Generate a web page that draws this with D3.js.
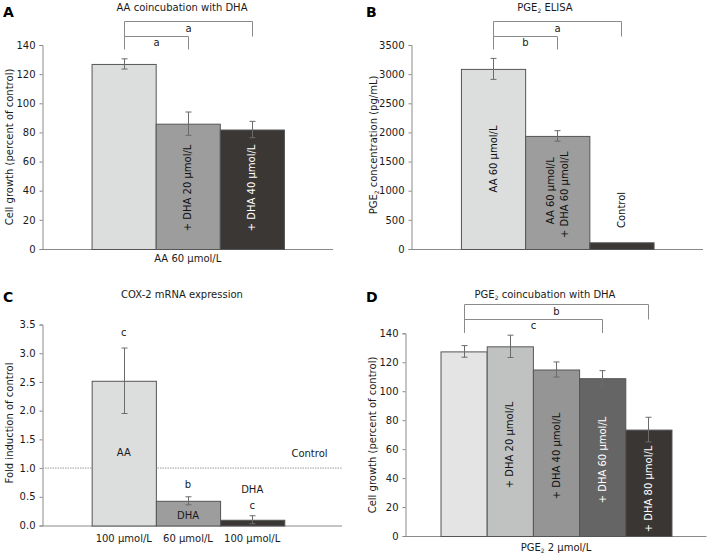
<!DOCTYPE html>
<html>
<head>
<meta charset="utf-8">
<script src="https://cdn.jsdelivr.net/npm/d3@7"></script>
<style>
  html, body { margin: 0; padding: 0; background: #fff; }
  svg { display: block; }
</style>
</head>
<body>
<svg id="chart" width="709" height="557"></svg>
<script>
// ---------------- DATA ----------------
// Panel A
const catsA = ["AA 60", "+ DHA 20", "+ DHA 40"];
const valuesA = [127, 86, 82];
const errorsA = [3.5, 8, 5.6];
const barLabelsA = ["", "+ DHA 20 μmol/L", "+ DHA 40 μmol/L"];
const xLabelA = "AA 60 μmol/L";
const ticksA = [0, 20, 40, 60, 80, 100, 120, 140];
const bracketsA = [ {from: 0, to: 2, level: 0, text: "a"}, {from: 0, to: 1, level: 1, text: "a"} ];

// Panel B
const catsB = ["AA", "AA+DHA", "Control"];
const valuesB = [3090, 1940, 115];
const errorsB = [180, 90, 0];
const barLabelsB = [["AA 60 μmol/L"], ["AA 60 μmol/L", "+ DHA 60 μmol/L"], ["Control"]];
const ticksB = [0, 500, 1000, 1500, 2000, 2500, 3000, 3500];
const bracketsB = [ {from: 0, to: 2, level: 0, text: "a"}, {from: 0, to: 1, level: 1, text: "b"} ];

// Panel C
const catsC = ["AA 100", "DHA 60", "DHA 100"];
const valuesC = [2.52, 0.43, 0.10];
const errorsC = [0.57, 0.07, 0.07];
const xTickLabelsC = ["100 μmol/L", "60 μmol/L", "100 μmol/L"];
const ticksC = [0, 0.5, 1.0, 1.5, 2.0, 2.5, 3.0, 3.5];
const controlLevelC = 1.0;
const annotationsC = [
  {cat: 0, value: 3.36, text: "c"},
  {cat: 0, value: 1.27, text: "AA"},
  {cat: 1, value: 0.71, text: "b"},
  {cat: 1, value: 0.17, text: "DHA"},
  {cat: 2, value: 0.63, text: "DHA"},
  {cat: 2, value: 0.34, text: "c"}
];

// Panel D
const catsD = ["PGE2", "+ DHA 20", "+ DHA 40", "+ DHA 60", "+ DHA 80"];
const valuesD = [127.5, 131, 115, 109, 73.5];
const errorsD = [4, 7.7, 5.2, 5.2, 8.5];
const barLabelsD = ["", "+ DHA 20 μmol/L", "+ DHA 40 μmol/L", "+ DHA 60 μmol/L", "+ DHA 80 μmol/L"];
const xLabelD = "PGE₂ 2 μmol/L";
const ticksD = [0, 20, 40, 60, 80, 100, 120, 140];
const bracketsD = [ {from: 0, to: 4, level: 0, text: "b"}, {from: 0, to: 3, level: 1, text: "c"} ];

// ---------------- STYLE / LAYOUT ----------------
const FONT = "'DejaVu Sans', Verdana, sans-serif";
const FS = 10;
const TXT = "#1a1a1a";
const grays3 = ["#dcdedd", "#9d9d9d", "#3b3735"];
const grays5 = ["#e4e4e4", "#c0c2c1", "#959595", "#666565", "#3a3634"];
const barStroke = "#555";
const axisColor = "#8a8a8a";
const errColor = "#6b6b6b";
const bracketColor = "#8a8a8a";

const svg = d3.select("#chart");

function txt(sel) {
  return sel.style("font-family", FONT).style("font-size", FS + "px").style("fill", TXT);
}

function richText(sel, str) {
  // renders "₂" as a small subscript 2
  const parts = str.split("₂");
  parts.forEach((p, i) => {
    if (i > 0) {
      sel.append("tspan").style("font-size", (FS * 0.6) + "px").attr("dy", 2).text("2");
      sel.append("tspan").attr("dy", -2).text(p);
    } else {
      sel.append("tspan").text(p);
    }
  });
}

function panel(cfg) {
  const g = svg.append("g");
  const x = d3.scaleBand().domain(d3.range(cfg.values.length))
    .range([cfg.x0, cfg.x1]).paddingInner(0).paddingOuter(cfg.po).align(cfg.align);
  const y = d3.scaleLinear().domain([0, cfg.yMax]).range([cfg.yBot, cfg.yTop]);

  // letter
  g.append("text").attr("x", cfg.letterX).attr("y", cfg.letterY)
    .style("font-family", FONT).style("font-weight", "bold").style("font-size", "14px")
    .style("fill", "#000").text(cfg.letter);
  // title
  const t = txt(g.append("text").attr("x", cfg.titleX).attr("y", cfg.titleY)
    .attr("text-anchor", "middle"));
  richText(t, cfg.title);
  // y label
  const yl = txt(g.append("text")
    .attr("transform", `translate(${cfg.yLabelX},${cfg.yLabelY}) rotate(-90)`)
    .attr("text-anchor", "middle").attr("dy", "0.35em"));
  richText(yl, cfg.yLabel);

  // y axis
  const ax = g.append("g").attr("transform", `translate(${cfg.x0},0)`)
    .call(d3.axisLeft(y).tickValues(cfg.ticks).tickSize(3).tickPadding(4)
      .tickFormat(cfg.fmt));
  ax.select(".domain").attr("stroke", axisColor);
  ax.selectAll(".tick line").attr("stroke", axisColor);
  txt(ax.selectAll(".tick text"));
  // x axis baseline
  g.append("line").attr("x1", cfg.x0).attr("x2", cfg.x1)
    .attr("y1", y(0) + 0.5).attr("y2", y(0) + 0.5).attr("stroke", axisColor);

  // control dotted line
  if (cfg.controlLevel != null) {
    g.append("line").attr("x1", cfg.x0).attr("x2", cfg.x1)
      .attr("y1", y(cfg.controlLevel)).attr("y2", y(cfg.controlLevel))
      .attr("stroke", "#9a9a9a").attr("stroke-dasharray", "1.5,1");
  }

  // bars
  g.selectAll("rect.bar").data(cfg.values).join("rect")
    .attr("x", (d, i) => x(i) + 0.5).attr("width", x.bandwidth())
    .attr("y", d => y(d) + 0.5).attr("height", d => y(0) - y(d))
    .attr("fill", (d, i) => cfg.colors[i]).attr("stroke", barStroke).attr("stroke-width", 1);

  // error bars
  const cap = 3;
  cfg.values.forEach((v, i) => {
    const e = cfg.errors[i];
    if (!e) return;
    const cx = Math.round(x(i) + x.bandwidth() / 2) + 0.5;
    const eg = g.append("g").attr("stroke", errColor).attr("stroke-width", 1);
    eg.append("line").attr("x1", cx).attr("x2", cx).attr("y1", y(v + e)).attr("y2", y(v - e));
    eg.append("line").attr("x1", cx - cap).attr("x2", cx + cap).attr("y1", y(v + e)).attr("y2", y(v + e));
    eg.append("line").attr("x1", cx - cap).attr("x2", cx + cap).attr("y1", y(v - e)).attr("y2", y(v - e));
  });

  // brackets
  if (cfg.brackets) {
    const cxOf = i => Math.round(x(i) + x.bandwidth() / 2) + 0.5;
    const bg = g.append("g").attr("stroke", bracketColor).attr("fill", "none");
    const lv = cfg.bracketLevels;
    bg.append("line").attr("x1", cxOf(0)).attr("x2", cxOf(0))
      .attr("y1", lv[0]).attr("y2", lv[lv.length - 1]);
    cfg.brackets.forEach(b => {
      const yb = lv[b.level];
      bg.append("line").attr("x1", cxOf(b.from)).attr("x2", cxOf(b.to)).attr("y1", yb).attr("y2", yb);
      bg.append("line").attr("x1", cxOf(b.to)).attr("x2", cxOf(b.to)).attr("y1", yb).attr("y2", lv[b.level + 1]);
      txt(g.append("text").attr("x", (cxOf(b.from) + cxOf(b.to)) / 2)
        .attr("y", (yb + lv[b.level + 1]) / 2).attr("dy", "0.32em")
        .attr("text-anchor", "middle")).text(b.text);
    });
  }

  // rotated in-bar labels
  if (cfg.barLabels) {
    cfg.barLabels.forEach((lab, i) => {
      const lines = Array.isArray(lab) ? lab : [lab];
      lines.forEach((ln, k) => {
        if (!ln) return;
        const cx = x(i) + x.bandwidth() / 2 + (k - (lines.length - 1) / 2) * 14;
        const cy = y(cfg.barLabelPos[i][k]);
        txt(g.append("text").attr("transform", `translate(${cx},${cy}) rotate(-90)`)
          .attr("text-anchor", "middle").attr("dy", "0.35em"))
          .style("fill", cfg.barLabelColors[i]).text(ln);
      });
    });
  }

  // x label (single, under bars)
  if (cfg.xLabel) {
    const n = cfg.values.length;
    const mid = (x(0) + x(n - 1) + x.bandwidth()) / 2;
    const xl = txt(g.append("text").attr("x", mid).attr("y", cfg.xLabelY)
      .attr("dy", "0.35em").attr("text-anchor", "middle"));
    richText(xl, cfg.xLabel);
  }
  if (cfg.xTickLabels) {
    txt(g.selectAll("text.xt").data(cfg.xTickLabels).join("text")
      .attr("x", (d, i) => x(i) + x.bandwidth() / 2).attr("y", cfg.xLabelY)
      .attr("dy", "0.35em").attr("text-anchor", "middle")).text(d => d);
  }
  if (cfg.annotations) {
    cfg.annotations.forEach(a => {
      txt(g.append("text").attr("x", x(a.cat) + x.bandwidth() / 2).attr("y", y(a.value))
        .attr("dy", "0.35em").attr("text-anchor", "middle")).text(a.text);
    });
  }
  return {g, x, y};
}

// Panel A
panel({
  letter: "A", letterX: 3, letterY: 17,
  title: "AA coincubation with DHA", titleX: 182, titleY: 11,
  yLabel: "Cell growth (percent of control)", yLabelX: 9, yLabelY: 147,
  x0: 42.5, x1: 333, po: 0.765, align: 0.5, yTop: 45, yBot: 249, yMax: 140,
  ticks: ticksA, fmt: d3.format("d"),
  values: valuesA, errors: errorsA, colors: grays3,
  brackets: bracketsA, bracketLevels: [21.5, 36.5, 49.5],
  barLabels: barLabelsA, barLabelPos: [[0], [41.9], [41.9]], barLabelColors: ["#111", "#111", "#fff"],
  xLabel: xLabelA, xLabelY: 258
});

// Panel B
panel({
  letter: "B", letterX: 366, letterY: 17,
  title: "PGE₂ ELISA", titleX: 545, titleY: 11,
  yLabel: "PGE₂ concentration (pg/mL)", yLabelX: 373, yLabelY: 145,
  x0: 411.5, x1: 703, po: 0.77, align: 0.5, yTop: 45, yBot: 249, yMax: 3500,
  ticks: ticksB, fmt: d3.format("d"),
  values: valuesB, errors: errorsB, colors: grays3,
  brackets: bracketsB, bracketLevels: [21.5, 36.5, 49.5],
  barLabels: barLabelsB, barLabelPos: [[1545], [1000, 930], [670]], barLabelColors: ["#111", "#111", "#111"]
});

// Panel C
panel({
  letter: "C", letterX: 3, letterY: 302,
  title: "COX-2 mRNA expression", titleX: 182, titleY: 297.5,
  yLabel: "Fold induction of control", yLabelX: 9, yLabelY: 423,
  x0: 42.5, x1: 342, po: 0.832, align: 0.46, yTop: 324.5, yBot: 525.5, yMax: 3.5,
  ticks: ticksC, fmt: d3.format(".1f"),
  values: valuesC, errors: errorsC, colors: grays3,
  controlLevel: controlLevelC,
  xTickLabels: xTickLabelsC, xLabelY: 538,
  annotations: annotationsC
});
// "Control" label for panel C dotted line
txt(svg.append("text").attr("x", 309.5).attr("y", 453).attr("dy", "0.35em")
  .attr("text-anchor", "middle")).text("Control");

// Panel D
panel({
  letter: "D", letterX: 366, letterY: 302,
  title: "PGE₂ coincubation with DHA", titleX: 545, titleY: 297.5,
  yLabel: "Cell growth (percent of control)", yLabelX: 372.5, yLabelY: 435,
  x0: 405.5, x1: 706.5, po: 0.758, align: 0.5, yTop: 333.3, yBot: 536, yMax: 140,
  ticks: ticksD, fmt: d3.format("d"),
  values: valuesD, errors: errorsD, colors: grays5,
  brackets: bracketsD, bracketLevels: [304.5, 319.5, 333],
  barLabels: barLabelsD, barLabelPos: [[0], [62.9], [55.3], [52.5], [32.5]],
  barLabelColors: ["#111", "#111", "#111", "#fff", "#fff"],
  xLabel: xLabelD, xLabelY: 547.5
});
</script>
</body>
</html>
